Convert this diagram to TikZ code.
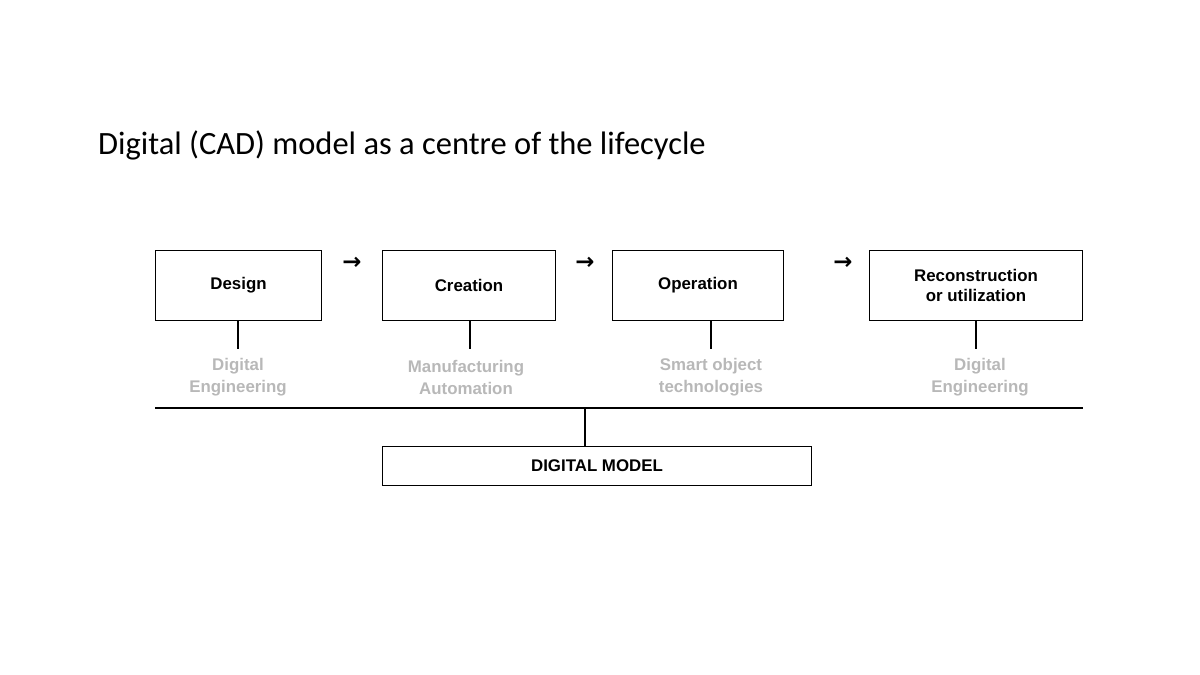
\documentclass[tikz,border=0pt]{standalone}
\usepackage{fontspec}
\setmainfont{Liberation Sans}
\newfontfamily\titlefont{Carlito}
\newfontfamily\symfont{DejaVu Sans}
\begin{document}
\begin{tikzpicture}[x=0.02cm,y=-0.02cm,
  box/.style={draw,line width=0.6pt,inner sep=0pt,font=\fontsize{9.6}{11.5}\selectfont\bfseries,align=center},
  lab/.style={text=black!28,font=\fontsize{9.6}{12.5}\selectfont\bfseries,align=center},
  arr/.style={font=\symfont\fontsize{13}{13}\selectfont\bfseries},
  ln/.style={line width=0.6pt}]
\useasboundingbox (0,0) rectangle (1200,675);
\node[anchor=base west,font=\titlefont\fontsize{18.5}{22}\selectfont] (title) at (92,155) {Digital (CAD) model as a centre of the lifecycle};
\node[box,minimum width=167*0.567pt,minimum height=71*0.567pt] (d) at (238.5,285.5) {Design};
\node[box,minimum width=174*0.567pt,minimum height=71*0.567pt] (c) at (469,285.5) {Creation};
\node[box,minimum width=172*0.567pt,minimum height=71*0.567pt] (o) at (698,285.5) {Operation};
\node[box,minimum width=214*0.567pt,minimum height=71*0.567pt] (r) at (976,285.5) {Reconstruction\\ or utilization};
\node[arr] (a1) at (352,263) {→};
\node[arr] (a2) at (585,263) {→};
\node[arr] (a3) at (843,263) {→};
\coordinate (sd) at (238,349); \coordinate (sc) at (470,349);
\coordinate (so) at (711,349); \coordinate (sr) at (976,349);
\draw[ln] (d.south -| sd) -- (sd);
\draw[ln] (c.south -| sc) -- (sc);
\draw[ln] (o.south -| so) -- (so);
\draw[ln] (r.south -| sr) -- (sr);
\node[lab] (ld) at (238,377) {Digital\\Engineering};
\node[lab] (lc) at (466,377) {Manufacturing\\Automation};
\node[lab] (lo) at (711,377) {Smart object\\technologies};
\node[lab] (lr) at (980,377) {Digital\\Engineering};
\coordinate (hl) at (155,408); \coordinate (hr) at (1083,408); \coordinate (hm) at (585,408);
\draw[ln] (hl) -- (hr);
\node[box,minimum width=430*0.567pt,minimum height=40*0.567pt] (m) at (597,466) {DIGITAL MODEL};
\draw[ln] (hm) -- (hm |- m.north);
\end{tikzpicture}
\end{document}
